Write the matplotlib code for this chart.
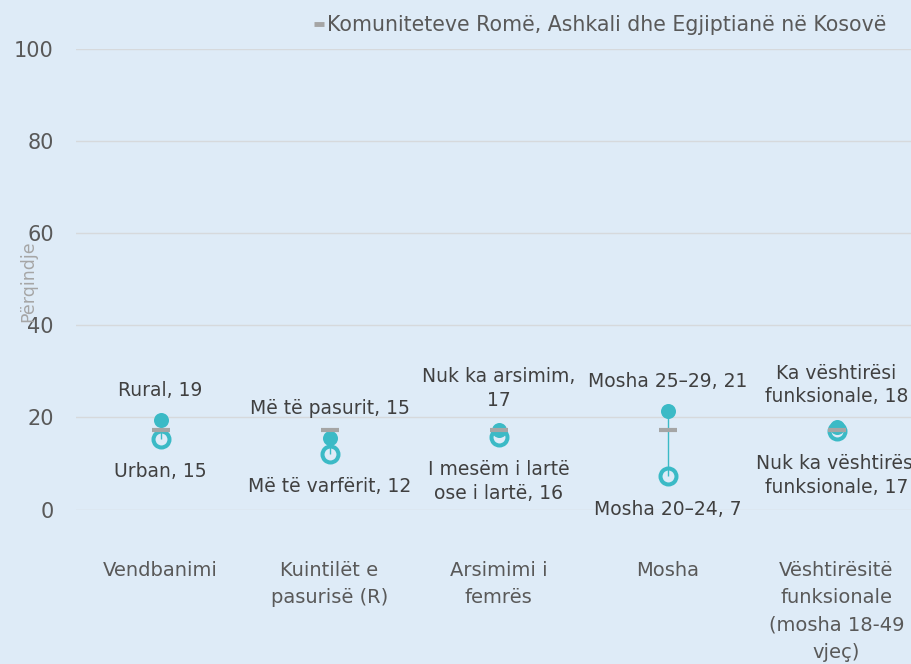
import matplotlib
matplotlib.use("Agg")
from matplotlib import pyplot as plt
from matplotlib.lines import Line2D

# kategorite dhe vlerat
kategorite = ["Vendbanimi", "Kuintilët e\npasurisë (R)", "Arsimimi i\nfemrës", "Mosha",
              "Vështirësitë\nfunksionale\n(mosha 18-49\nvjeç)"]
vlera_lart = [19.4, 15.6, 17.3, 21.3, 18.0]
vlera_poshte = [15.4, 12.1, 15.8, 7.2, 17.1]
mesatarja = [17.3, 17.3, 17.3, 17.3, 17.3]
etiketa_lart = ["Rural, 19", "Më të pasurit, 15", "Nuk ka arsimim,\n17", "Mosha 25–29, 21",
                "Ka vështirësi\nfunksionale, 18"]
etiketa_poshte = ["Urban, 15", "Më të varfërit, 12", "I mesëm i lartë\nose i lartë, 16",
                  "Mosha 20–24, 7", "Nuk ka vështirësi\nfunksionale, 17"]
y_ticks = [0, 20, 40, 60, 80, 100]

sfondi = "#DEEBF7"
teal = "#3BBAC6"
gri = "#A5A5A5"
tekst = "#404040"

fig = plt.figure(figsize=(9.11, 6.64), dpi=100, facecolor=sfondi)
ax = fig.add_axes([76 / 911, 154.5 / 664, 845 / 911, 460.5 / 664])
ax.set_facecolor(sfondi)

x = list(range(len(kategorite)))

# vijat lidhese
ax.vlines(x, vlera_poshte, vlera_lart, color=teal, lw=1, zorder=2)
ax.plot(x, vlera_poshte, linestyle="none", marker="o", ms=11.5, mew=2.9,
        mfc="none", mec=teal, zorder=3)
ax.plot(x, vlera_lart, linestyle="none", marker="o", ms=10.8, mew=0,
        mfc=teal, zorder=4)
ax.plot(x, mesatarja, linestyle="none", marker="_", ms=12.5, mew=3,
        color=gri, zorder=5)

for i in x:
    ax.annotate(etiketa_lart[i], (i, vlera_lart[i]), xytext=(0, 14.5),
                textcoords="offset points", ha="center", va="bottom",
                fontsize=13.5, color=tekst, linespacing=1.3)
    ax.annotate(etiketa_poshte[i], (i, vlera_poshte[i]), xytext=(0, -17),
                textcoords="offset points", ha="center", va="top",
                fontsize=13.5, color=tekst, linespacing=1.3)

ax.set_xlim(-0.5, len(kategorite) - 0.5)
ax.set_ylim(0, 100)
ax.set_yticks(y_ticks)
ax.set_xticks(x)
ax.set_xticklabels(kategorite, fontsize=14, color="#595959", linespacing=1.55)
ax.tick_params(axis="x", length=0, pad=37)
ax.tick_params(axis="y", length=0, pad=16, labelsize=15, labelcolor="#595959")
ax.grid(axis="y", color="#D6D9DC", lw=1)
ax.set_axisbelow(True)
for s in ax.spines.values():
    s.set_visible(False)

ax.set_ylabel("Përqindje", fontsize=12.5, color="#A6A6A6")
ax.yaxis.set_label_coords(-0.046, 0.495)

handle = Line2D([], [], color=gri, lw=3.5, solid_capstyle="butt")
leg = fig.legend([handle], ["Komuniteteve Romë, Ashkali dhe Egjiptianë në Kosovë"],
                 loc="center right", bbox_to_anchor=(886 / 911, 1 - 25 / 664),
                 frameon=False, fontsize=14.8, handlelength=0.45, handletextpad=0.15,
                 borderpad=0, borderaxespad=0)
for t in leg.get_texts():
    t.set_color("#595959")

plt.savefig("out.png", dpi=100, facecolor=sfondi)
